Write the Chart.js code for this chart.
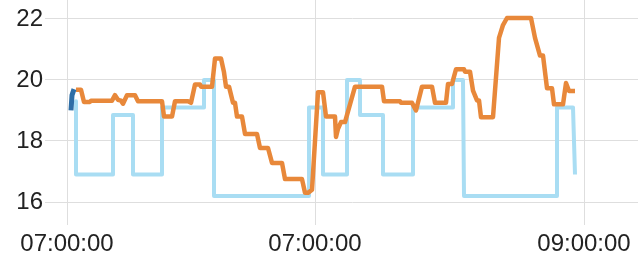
<!DOCTYPE html>
<html>
<head>
<meta charset="utf-8">
<script src="https://cdn.jsdelivr.net/npm/chart.js@4"></script>
<style>
html,body{margin:0;padding:0;background:#fff;}
#wrap{width:640px;height:269px;}
</style>
</head>
<body>
<div id="wrap"><canvas id="c" width="640" height="269"></canvas></div>
<script>
// x positions are in chart time units (0 = first tick)
const tickValues = [0, 248, 517];
const tickLabels = ["07:00:00", "07:00:00", "09:00:00"];
const yTicks = [16, 18, 20, 22];

const setpointX = [9,9,46,46,66,66,95,95,137,137,147,147,242,242,256,256,280,280,293,293,316,316,346,346,386,386,396,397,490,490,506,508];
const setpointY = [19.3,16.9,16.9,18.85,18.85,16.9,16.9,19.1,19.1,20.0,20.0,16.2,16.2,19.1,19.1,16.9,16.9,20.0,20.0,18.85,18.85,16.9,16.9,19.1,19.1,20.0,20.0,16.2,16.2,19.1,19.1,16.9];

const earlyX = [4,5,7];
const earlyY = [19.0,19.5,19.7];

const tempX = [9,14,17,23,24,45,48,51,54,56,60,68,71,95,97,105,108,121,124,128,133,134,145,148,154,157,159,162,166,168,170,175,178,190,193,201,205,215,218,235,238,241,245,251,256,259,268,269,271,274,278,288,315,317,333,334,345,349,355,365,368,379,381,385,389,397,398,403,406,410,412,414,426,432,436,440,464,468,473,476,480,485,487,496,499,502,508];
const tempY = [19.68,19.68,19.28,19.28,19.32,19.32,19.5,19.35,19.32,19.22,19.5,19.5,19.3,19.3,18.8,18.8,19.3,19.3,19.25,19.85,19.85,19.78,19.78,20.7,20.7,20.25,19.78,19.78,19.25,19.25,18.8,18.8,18.23,18.23,17.77,17.77,17.28,17.28,16.75,16.75,16.3,16.3,16.4,19.6,19.6,18.8,18.8,18.13,18.4,18.62,18.62,19.78,19.78,19.3,19.3,19.25,19.25,19.0,19.78,19.78,19.25,19.25,19.87,19.87,20.35,20.35,20.27,20.27,19.65,19.33,19.33,18.78,18.78,21.38,21.8,22.03,22.03,21.38,20.8,20.8,19.73,19.73,19.2,19.2,19.9,19.64,19.64];

function pts(xs, ys){ return xs.map((x,i)=>({x:x, y:ys[i]})); }

const gridColor = '#dedede';
const font = {family: '"Liberation Sans", Arial, sans-serif', size: 24};

new Chart(document.getElementById('c'), {
  type: 'line',
  data: {
    datasets: [
      {data: pts(setpointX, setpointY), borderColor: '#a9ddf3', borderWidth: 4, pointRadius: 0, order: 3, borderJoinStyle: 'round', tension: 0},
      {data: pts(tempX, tempY), borderColor: '#e8883a', borderWidth: 4.5, pointRadius: 0, order: 1, borderJoinStyle: 'round', tension: 0},
      {data: pts(earlyX, earlyY), borderColor: '#2f6ea6', borderWidth: 5, pointRadius: 0, order: 0, tension: 0}
    ]
  },
  options: {
    responsive: false,
    animation: false,
    events: [],
    layout: {padding: {top: 0, right: 2, left: 0, bottom: 0}},
    plugins: {legend: {display: false}, tooltip: {enabled: false}},
    scales: {
      x: {
        type: 'linear', min: 0, max: 571,
        border: {display: false},
        grid: {color: gridColor, lineWidth: 1, tickLength: 23, tickColor: gridColor},
        ticks: {font: font, color: '#222', padding: 5, maxRotation: 0, autoSkip: false,
          callback: (v, i) => tickLabels[i]},
        afterBuildTicks: s => { s.ticks = tickValues.map(v => ({value: v})); },
        afterFit: s => { s.height = 67; s.paddingLeft = 0; s.paddingRight = 0; }
      },
      y: {
        type: 'linear', min: 16, max: 22.62,
        border: {display: false},
        grid: {color: gridColor, lineWidth: 1, tickLength: 22, tickColor: gridColor},
        ticks: {font: font, color: '#222', padding: 2},
        afterBuildTicks: s => { s.ticks = yTicks.map(v => ({value: v})); },
        afterFit: s => { s.width = 67; s.paddingTop = 0; s.paddingBottom = 0; }
      }
    }
  }
});
</script>
</body>
</html>
